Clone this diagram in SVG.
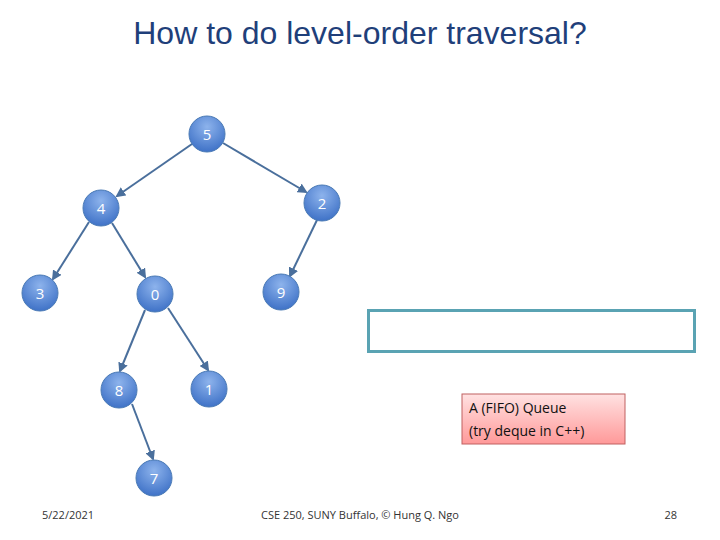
<svg xmlns="http://www.w3.org/2000/svg" width="720" height="540" viewBox="0 0 720 540">
<style>
.n circle{fill:url(#g);stroke:#4a7ab5;stroke-width:1}
.n text{font-family:"Open Sans","DejaVu Sans",sans-serif;font-size:15px;fill:#fff;text-anchor:middle}
.e line{stroke:#4a6f9c;stroke-width:2;marker-end:url(#a)}
.f{font-family:"Open Sans","DejaVu Sans",sans-serif;font-size:11px;fill:#333}
</style>
<defs>
<radialGradient id="g" cx="0.5" cy="0.3" r="0.7"><stop offset="0" stop-color="#8db3ec"/><stop offset="1" stop-color="#3f72c7"/></radialGradient>
<linearGradient id="p" x1="0" y1="0" x2="0" y2="1"><stop offset="0" stop-color="#ffe2e2"/><stop offset="1" stop-color="#f99"/></linearGradient>
<marker id="a" markerWidth="5" markerHeight="5" refX="4" refY="2.5" orient="auto" markerUnits="strokeWidth"><path d="M0,0L5,2.5L0,5z" fill="#4a6f9c"/></marker>
</defs>
<rect width="720" height="540" fill="#fff"/>
<text x="360" y="44" font-family="Liberation Sans,Arial,sans-serif" font-size="32" fill="#1f3f7a" text-anchor="middle">How to do level-order traversal?</text>
<g class="e" id="edges">
<line x1="192" y1="144" x2="117" y2="196"/>
<line x1="223" y1="143" x2="306" y2="192"/>
<line x1="89" y1="222" x2="53" y2="279"/>
<line x1="112" y1="223" x2="145" y2="277"/>
<line x1="317" y1="220" x2="290" y2="276"/>
<line x1="145" y1="310" x2="120" y2="371"/>
<line x1="168" y1="308" x2="208" y2="370"/>
<line x1="132" y1="404" x2="153" y2="459"/>
</g>
<g class="n" id="n5"><circle cx="207" cy="134" r="18"/><text x="207" y="140">5</text></g>
<g class="n" id="n4"><circle cx="101" cy="208" r="18"/><text x="101" y="214">4</text></g>
<g class="n" id="n2"><circle cx="322" cy="203" r="18"/><text x="322" y="209">2</text></g>
<g class="n" id="n3"><circle cx="40" cy="293" r="18"/><text x="40" y="299">3</text></g>
<g class="n" id="n0"><circle cx="155" cy="294" r="18"/><text x="155" y="300">0</text></g>
<g class="n" id="n9"><circle cx="281" cy="292" r="18"/><text x="281" y="298">9</text></g>
<g class="n" id="n8"><circle cx="119" cy="390" r="18"/><text x="119" y="396">8</text></g>
<g class="n" id="n1"><circle cx="209" cy="389" r="18"/><text x="209" y="395">1</text></g>
<g class="n" id="n7"><circle cx="154" cy="478" r="18"/><text x="154" y="484">7</text></g>
<g id="queue"><rect x="368.500" y="310.500" width="326" height="41" fill="#fff" stroke="#5aa3b3" stroke-width="3"/></g>
<g id="label"><rect x="462" y="394" width="163" height="50" fill="url(#p)" stroke="#c06060"/>
<text x="469" y="413" font-family="Open Sans,DejaVu Sans,sans-serif" font-size="14" fill="#111">A (FIFO) Queue</text>
<text x="469" y="436" font-family="Open Sans,DejaVu Sans,sans-serif" font-size="14" fill="#111">(try deque in C++)</text></g>
<text class="f" x="42" y="519">5/22/2021</text>
<text class="f" x="360" y="519" text-anchor="middle">CSE 250,  SUNY Buffalo, © Hung Q. Ngo</text>
<text class="f" x="677" y="519" text-anchor="end">28</text>
</svg>
